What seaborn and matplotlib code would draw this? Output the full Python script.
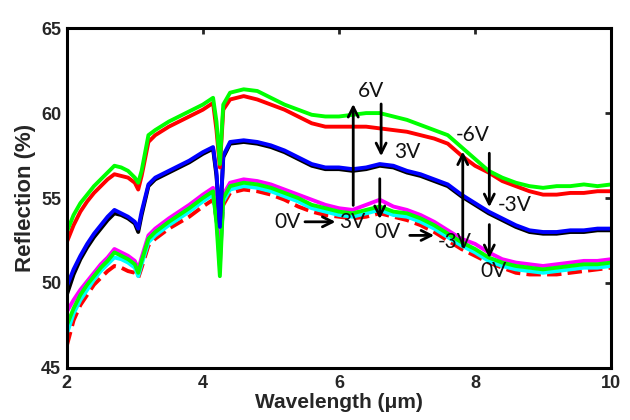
"""
Reflection spectra of the device under a voltage cycle
0V -> 3V -> 6V -> 3V -> 0V -> -3V -> -6V -> -3V -> 0V.
"""

import matplotlib
matplotlib.use("Agg")
import matplotlib.pyplot as plt
import seaborn as sns

# wavelength sampling points (um)
WAVELENGTH = [
    2.0, 2.1, 2.2, 2.3, 2.4, 2.5, 2.6, 2.7, 2.8, 2.9, 3.0, 3.05, 3.1, 3.2, 3.3,
    3.5, 3.8, 4.0, 4.15, 4.2, 4.25, 4.3, 4.4, 4.6, 4.8, 5.0, 5.2, 5.4, 5.6, 5.8,
    6.0, 6.2, 6.4, 6.6, 6.8, 7.0, 7.2, 7.4, 7.6, 7.8, 8.0, 8.2, 8.4, 8.6, 8.8,
    9.0, 9.2, 9.4, 9.6, 9.8, 10.0,
]

# reflection (%) per curve
R_NEG6V = [
    53.0, 54.0, 54.7, 55.2, 55.7, 56.1, 56.5, 56.9, 56.8, 56.6, 56.2, 55.9, 56.6,
    58.7, 59.0, 59.5, 60.1, 60.5, 60.9, 59.5, 57.0, 60.5, 61.2, 61.4, 61.3, 60.9,
    60.5, 60.2, 59.9, 59.8, 59.8, 59.9, 60.0, 60.0, 59.8, 59.6, 59.3, 59.0, 58.7,
    58.0, 57.3, 56.6, 56.2, 55.9, 55.7, 55.6, 55.7, 55.7, 55.8, 55.7, 55.8,
]
R_6V = [
    52.4, 53.4, 54.2, 54.8, 55.3, 55.7, 56.1, 56.4, 56.3, 56.2, 55.9, 55.5, 56.3,
    58.3, 58.7, 59.2, 59.8, 60.2, 60.6, 59.0, 56.8, 60.2, 60.8, 61.0, 60.8, 60.5,
    60.2, 59.8, 59.4, 59.2, 59.2, 59.2, 59.2, 59.1, 59.0, 58.9, 58.7, 58.5, 58.2,
    57.5, 56.9, 56.5, 56.0, 55.7, 55.4, 55.2, 55.2, 55.3, 55.3, 55.4, 55.4,
]
R_3V = [
    49.8, 50.8, 51.6, 52.3, 52.9, 53.4, 53.9, 54.3, 54.1, 53.9, 53.6, 53.2, 54.2,
    55.8, 56.2, 56.6, 57.2, 57.7, 58.0, 56.5, 53.3, 57.5, 58.3, 58.4, 58.3, 58.1,
    57.8, 57.4, 57.0, 56.8, 56.8, 56.7, 56.8, 57.0, 56.9, 56.6, 56.4, 56.1, 55.8,
    55.2, 54.7, 54.2, 53.8, 53.4, 53.1, 53.0, 53.0, 53.1, 53.1, 53.2, 53.2,
]
R_NEG3V = [
    49.3, 50.5, 51.4, 52.1, 52.7, 53.2, 53.7, 54.1, 54.0, 53.8, 53.5, 53.0, 54.0,
    55.7, 56.1, 56.5, 57.1, 57.6, 57.9, 56.3, 53.5, 57.4, 58.2, 58.3, 58.2, 58.0,
    57.7, 57.3, 56.9, 56.7, 56.7, 56.6, 56.7, 56.9, 56.8, 56.5, 56.3, 56.0, 55.7,
    55.1, 54.6, 54.1, 53.7, 53.3, 53.0, 52.9, 52.9, 53.0, 53.0, 53.1, 53.1,
]
R_0V_A = [
    48.3, 49.0, 49.6, 50.1, 50.6, 51.1, 51.5, 52.0, 51.8, 51.6, 51.3, 50.8, 51.5,
    52.8, 53.2, 53.8, 54.6, 55.2, 55.6, 54.0, 51.0, 55.2, 55.9, 56.1, 56.0, 55.8,
    55.5, 55.2, 54.9, 54.6, 54.4, 54.3, 54.6, 54.9, 54.5, 54.3, 54.0, 53.6, 53.1,
    52.6, 52.3, 51.8, 51.4, 51.2, 51.1, 51.0, 51.1, 51.2, 51.3, 51.3, 51.4,
]
R_0V_B = [
    47.5, 48.5, 49.3, 49.9, 50.4, 50.9, 51.3, 51.8, 51.6, 51.4, 51.1, 50.6, 51.3,
    52.6, 53.0, 53.6, 54.4, 55.0, 55.4, 53.5, 50.4, 55.0, 55.7, 55.9, 55.8, 55.6,
    55.3, 55.0, 54.6, 54.4, 54.2, 54.1, 54.3, 54.5, 54.2, 54.1, 53.8, 53.4, 52.9,
    52.4, 52.0, 51.5, 51.2, 51.0, 50.9, 50.8, 50.9, 51.0, 51.1, 51.1, 51.2,
]
R_0V_C = [
    47.0, 48.2, 49.0, 49.6, 50.2, 50.7, 51.1, 51.5, 51.4, 51.2, 50.9, 50.4, 51.1,
    52.4, 52.8, 53.4, 54.2, 54.8, 55.2, 53.8, 51.5, 54.8, 55.5, 55.7, 55.6, 55.4,
    55.1, 54.8, 54.4, 54.2, 54.0, 53.9, 54.1, 54.3, 54.0, 53.9, 53.6, 53.2, 52.7,
    52.2, 51.8, 51.3, 51.0, 50.8, 50.7, 50.6, 50.7, 50.8, 50.9, 50.9, 51.0,
]
R_0V_D = [
    46.3, 47.8, 48.7, 49.3, 49.9, 50.3, 50.7, 51.0, 50.9, 50.7, 50.6, 50.3, 50.9,
    52.2, 52.6, 53.2, 53.9, 54.5, 54.9, 53.8, 52.0, 54.6, 55.3, 55.5, 55.4, 55.2,
    54.9, 54.5, 54.2, 54.0, 53.9, 53.8, 53.9, 54.1, 53.9, 53.7, 53.4, 53.0, 52.5,
    52.0, 51.6, 51.2, 50.9, 50.6, 50.5, 50.5, 50.5, 50.6, 50.7, 50.8, 50.9,
]

# drawing order: bottom of the stack first
CURVES = [
    (R_0V_D, "red", "--"),
    (R_0V_C, "cyan", "-"),
    (R_0V_A, "magenta", "-"),
    (R_0V_B, "lime", "-"),
    (R_NEG3V, "black", "-"),
    (R_3V, "blue", "-"),
    (R_6V, "red", "-"),
    (R_NEG6V, "lime", "-"),
]

# voltage-step labels and arrows (data coords)
LABELS = [
    ("6V", 6.47, 61.3),
    ("3V", 7.0, 57.7),
    ("0V", 5.25, 53.6),
    ("3V", 6.2, 53.6),
    ("0V", 6.72, 53.0),
    ("-3V", 7.7, 52.4),
    ("-6V", 7.97, 58.7),
    ("-3V", 8.58, 54.6),
    ("0V", 8.27, 50.7),
]
ARROWS = [  # (x0, y0, x1, y1)
    (6.21, 54.4, 6.21, 60.7),
    (6.62, 60.7, 6.62, 57.3),
    (6.60, 56.3, 6.60, 53.6),
    (5.46, 53.6, 5.99, 53.6),
    (7.00, 52.8, 7.44, 52.8),
    (7.82, 52.0, 7.82, 57.9),
    (8.21, 57.8, 8.21, 54.3),
    (8.21, 53.6, 8.21, 51.3),
]

sns.set_theme(style="white")
plt.rcParams["font.family"] = ["Liberation Sans", "DejaVu Sans"]

fig = plt.figure(figsize=(6.3, 4.2), dpi=100)
ax = fig.add_axes([0.106, 0.124, 0.864, 0.809])

for vals, color, ls in CURVES:
    sns.lineplot(x=WAVELENGTH, y=vals, color=color, linestyle=ls,
                 linewidth=2.8, ax=ax, legend=False)

for text, x, y in LABELS:
    ax.text(x, y, text, fontsize=15, ha="center", va="center",
            family=["Lato", "DejaVu Sans"], color="#111111")

for x0, y0, x1, y1 in ARROWS:
    ax.annotate("", xy=(x1, y1), xytext=(x0, y0),
                arrowprops=dict(arrowstyle="->", lw=2, color="black",
                                mutation_scale=18))

ax.set_xlim(2, 10)
ax.set_ylim(45, 65)
ax.set_xticks([2, 4, 6, 8, 10])
ax.set_yticks([45, 50, 55, 60, 65])
ax.tick_params(direction="in", length=4, width=2, labelsize=13,
               top=True, right=True)
ax.tick_params(axis="x", pad=5)
ax.tick_params(axis="y", pad=4)
for lbl in ax.get_xticklabels() + ax.get_yticklabels():
    lbl.set_fontweight("bold")
for sp in ax.spines.values():
    sp.set_linewidth(2.2)
    sp.set_color("black")

ax.set_xlabel("Wavelength (\u03bcm)", fontsize=15, fontweight="bold", labelpad=1)
ax.set_ylabel("Reflection (%)", fontsize=16, fontweight="bold", labelpad=4)

fig.savefig("out.png", dpi=100)
